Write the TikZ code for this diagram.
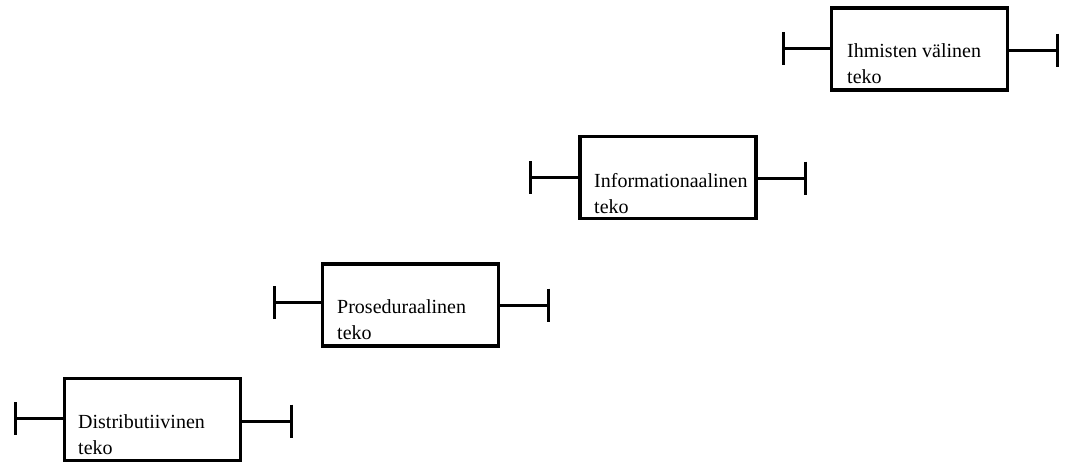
\documentclass[tikz,border=0pt]{standalone}
\usepackage{fontspec}
\setmainfont{Liberation Serif}
\usetikzlibrary{arrows.meta}
\begin{document}
\begin{tikzpicture}[x=1pt,y=-1pt,
  boxst/.style={draw=black,line width=3.5pt,fill=white,minimum width=176pt,minimum height=82pt,inner sep=0pt},
  txt/.style={inner sep=0pt,align=left,font=\fontsize{20pt}{26pt}\selectfont,anchor=base west},
  whisk/.style={draw=black,line width=3pt},
  lcap/.style={whisk,{Bar[width=33pt,line width=3pt]}-},
  rcap/.style={whisk,-{Bar[width=33pt,line width=3pt]}}]
\useasboundingbox (0,0) rectangle (1067,464);
% boxes
\node[boxst] (b1) at (152.5,419.5) {};
\node[boxst] (b2) at (410.5,305) {};
\node[boxst] (b3) at (668,177.5) {};
\node[boxst] (b4) at (919.5,49) {};
% texts (base anchor = baseline of the last line)
\node[txt] (t1) at (78,454) {Distributiivinen\\teko};
\node[txt] (t2) at (337,339) {Proseduraalinen\\teko};
\node[txt] (t3) at (594,213) {Informationaalinen\\teko};
\node[txt] (t4) at (847,83) {Ihmisten välinen\\teko};
% whisker ends
\coordinate (l1) at (14,418);  \coordinate (r1) at (293,421);
\coordinate (l2) at (273,302); \coordinate (r2) at (550,305);
\coordinate (l3) at (529,177); \coordinate (r3) at (807,178);
\coordinate (l4) at (782,48);  \coordinate (r4) at (1059,50);
\foreach \i in {1,2,3,4}{
  \draw[lcap] (l\i) -- (b\i.west |- l\i);
  \draw[rcap] (b\i.east |- r\i) -- (r\i);
}
\end{tikzpicture}
\end{document}
